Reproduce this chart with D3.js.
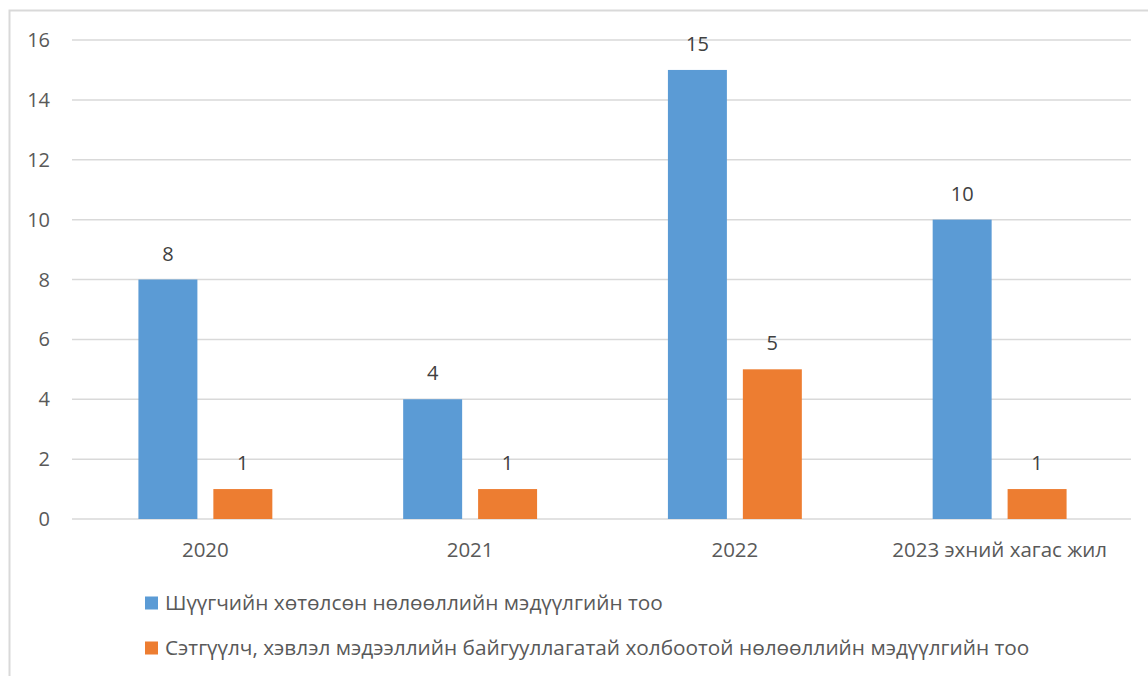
<!DOCTYPE html>
<html><head><meta charset="utf-8">
<script src="https://cdn.jsdelivr.net/npm/d3@7"></script>
<style>body{margin:0;background:#fff}svg{display:block}</style>
</head><body>
<svg id="c" width="1148" height="676"></svg>
<script>
const categories = ["2020", "2021", "2022", "2023 эхний хагас жил"];
const seriesNames = ["Шүүгчийн хөтөлсөн нөлөөллийн мэдүүлгийн тоо",
  "Сэтгүүлч, хэвлэл мэдээллийн байгууллагатай холбоотой нөлөөллийн мэдүүлгийн тоо"];
const series1 = [8, 4, 15, 10];
const series2 = [1, 1, 5, 1];
const yTicks = [0, 2, 4, 6, 8, 10, 12, 14, 16];
const colors = ["#5B9BD5", "#ED7D31"];

(function () {
const svg = d3.select("#c");
const font = "'Open Sans', 'Noto Sans', sans-serif";
const txt = "#595959";

// chart border
svg.append("rect").attr("x", 9.5).attr("y", 10.5).attr("width", 1160).attr("height", 700)
  .attr("fill", "none").attr("stroke", "#d9d9d9").attr("stroke-width", 2);

const pL = 73, pR = 1132, pT = 40, pB = 519;
const x0 = d3.scaleBand().domain(categories).range([pL, pR]).padding(0);
const x1 = d3.scaleBand().domain([0, 1]).range([0, x0.bandwidth()]).paddingInner(0.213).paddingOuter(0.873);
const y = d3.scaleLinear().domain([0, 16]).range([pB, pT]);

// gridlines
svg.append("g").selectAll("line").data(yTicks).join("line")
  .attr("x1", pL - 1).attr("x2", pR - 1)
  .attr("y1", d => y(d)).attr("y2", d => y(d))
  .attr("stroke", "#d9d9d9").attr("stroke-width", 1.5);

// y tick labels
svg.append("g").selectAll("text").data(yTicks).join("text")
  .attr("x", 50).attr("y", d => y(d)).attr("dy", "0.35em")
  .attr("text-anchor", "end").attr("fill", txt)
  .style("font-family", font).style("font-size", "20px").text(d => d);

const data = [series1, series2];
data.forEach((vals, si) => {
  const g = svg.append("g");
  g.selectAll("rect").data(vals).join("rect")
    .attr("x", (d, i) => x0(categories[i]) + x1(si))
    .attr("width", x1.bandwidth())
    .attr("y", d => y(d)).attr("height", d => y(0) - y(d))
    .attr("fill", colors[si]);
  g.selectAll("text").data(vals).join("text")
    .attr("x", (d, i) => x0(categories[i]) + x1(si) + x1.bandwidth() / 2)
    .attr("y", d => y(d) - 19)
    .attr("text-anchor", "middle").attr("fill", "#404040")
    .style("font-family", font).style("font-size", "20px").text(d => d);
});

// category labels
svg.append("g").selectAll("text").data(categories).join("text")
  .attr("x", d => x0(d) + x0.bandwidth() / 2).attr("y", 557)
  .attr("text-anchor", "middle").attr("fill", txt)
  .style("font-family", font).style("font-size", "20.5px").text(d => d);

// legend
const lg = svg.append("g");
seriesNames.forEach((name, i) => {
  const cy = 603 + i * 45;
  lg.append("rect").attr("x", 145).attr("y", cy - 6.5).attr("width", 13).attr("height", 13).attr("fill", colors[i]);
  lg.append("text").attr("x", 165).attr("y", cy).attr("dy", "0.35em").attr("fill", txt)
    .style("font-family", font).style("font-size", "20.8px").text(name);
});
})();
</script>
</body></html>
